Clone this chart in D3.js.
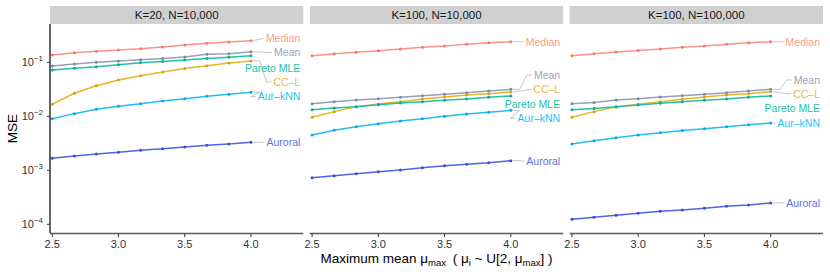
<!DOCTYPE html>
<html>
<head>
<meta charset="utf-8">
<script src="https://d3js.org/d3.v7.min.js"></script>
<style>
    body { margin: 0; background: white; }
    svg text { font-family: 'Liberation Sans', Arial, sans-serif; }
</style>
</head>
<body>
<svg id="chart" width="830" height="277"></svg>
<script>
    // x values: maximum mean mu_max
    var muMax = [2.5, 2.667, 2.833, 3.0, 3.167, 3.333, 3.5, 3.667, 3.833, 4.0];
    var panels = ['K=20, N=10,000', 'K=100, N=10,000', 'K=100, N=100,000'];
    var methods = ['Median', 'Mean', 'CC\u2013L', 'Pareto MLE', 'Aur\u2013kNN', 'Auroral'];

    // MSE per method, one row per panel
    var median = [
        [0.136, 0.151, 0.160, 0.169, 0.179, 0.192, 0.209, 0.225, 0.238, 0.251],
        [0.132, 0.144, 0.153, 0.164, 0.176, 0.190, 0.200, 0.216, 0.231, 0.240],
        [0.132, 0.144, 0.155, 0.166, 0.176, 0.190, 0.200, 0.216, 0.229, 0.240]
    ];
    var mean = [
        [0.0854, 0.093, 0.100, 0.106, 0.112, 0.117, 0.125, 0.141, 0.144, 0.157],
        [0.0171, 0.0186, 0.0200, 0.0212, 0.0225, 0.0241, 0.0255, 0.0274, 0.0294, 0.0316],
        [0.0171, 0.0180, 0.0200, 0.0212, 0.0227, 0.0241, 0.0255, 0.0274, 0.0294, 0.0316]
    ];
    var ccl = [
        [0.0167, 0.0267, 0.0369, 0.047, 0.0565, 0.066, 0.077, 0.0865, 0.097, 0.106],
        [0.00957, 0.0122, 0.0151, 0.0169, 0.0186, 0.0209, 0.0227, 0.0248, 0.0262, 0.0282],
        [0.00957, 0.0122, 0.0149, 0.0167, 0.0186, 0.0206, 0.0227, 0.0248, 0.0262, 0.0285]
    ];
    var pareto = [
        [0.072, 0.0774, 0.083, 0.090, 0.098, 0.104, 0.110, 0.117, 0.124, 0.132],
        [0.0132, 0.0142, 0.0151, 0.0164, 0.0176, 0.0186, 0.0198, 0.0209, 0.0225, 0.0238],
        [0.0132, 0.0140, 0.0151, 0.0162, 0.0174, 0.0186, 0.0198, 0.0209, 0.0225, 0.0238]
    ];
    var aurKnn = [
        [0.00903, 0.0112, 0.0135, 0.0153, 0.0171, 0.0192, 0.0212, 0.0234, 0.0255, 0.0278],
        [0.00451, 0.00551, 0.00642, 0.00729, 0.00818, 0.00903, 0.0100, 0.0110, 0.0119, 0.0129],
        [0.00307, 0.00353, 0.00402, 0.00451, 0.00497, 0.00546, 0.00589, 0.00642, 0.00698, 0.00751]
    ];
    var auroral = [
        [0.00167, 0.00184, 0.00200, 0.00216, 0.00235, 0.00251, 0.00270, 0.00290, 0.00307, 0.00330],
        [0.00073, 0.000794, 0.000865, 0.000942, 0.00101, 0.00112, 0.00122, 0.00129, 0.00138, 0.00151],
        [0.000124, 0.000135, 0.000147, 0.000160, 0.000174, 0.000184, 0.000198, 0.000216, 0.000228, 0.000248]
    ];
    // where the repelled labels sit (MSE units), one row per panel, in methods order
    var labelAt = [
        [0.278, 0.151, 0.0432, 0.0774, 0.0231, 0.0033],
        [0.240, 0.0582, 0.0316, 0.0167, 0.00918, 0.00149],
        [0.240, 0.047, 0.0259, 0.0141, 0.00741, 0.000249]
    ];
    var xTicks = [2.5, 3.0, 3.5, 4.0];
    var yTicks = [-1, -2, -3, -4];

    var series = [median, mean, ccl, pareto, aurKnn, auroral];
    var colors = ['#ff9288', '#94a1b9', '#e5b62a', '#22c1a2', '#22bdf2', '#4d66e2'];
    var pointColors = ['#f9786c', '#7d8aa3', '#d4a418', '#10ad8e', '#0aa8e2', '#3550d4'];
    var labelColors = ['#ff9a90', '#9aa6bd', '#e8bb3a', '#1fbf9f', '#2abff3', '#5b72e4'];

    var svg = d3.select('#chart');
    var padLeft = 50, padRight = 823, gap = 6.5;
    var stripTop = 6, plotTop = 24, plotBottom = 233;
    var pw = (padRight - padLeft - 2 * gap) / 3;
    var ph = plotBottom - plotTop;

    var x = d3.scaleLinear().domain([2.483, 4.395]).range([0, pw]);
    var y = d3.scaleLog().domain([6.9e-5, 0.512]).range([ph, 0]);

    panels.forEach(function (title, p) {
        var g = svg.append('g')
            .attr('transform', 'translate(' + (padLeft + p * (pw + gap)) + ',' + plotTop + ')');

        // strip
        g.append('rect')
            .attr('x', 0).attr('y', stripTop - plotTop)
            .attr('width', pw).attr('height', plotTop - stripTop)
            .attr('fill', '#d0d0d0');
        g.append('text')
            .attr('x', pw / 2).attr('y', (stripTop - plotTop) / 2 + 4)
            .attr('text-anchor', 'middle')
            .attr('font-size', 11.5)
            .attr('fill', '#1a1a1a')
            .text(title);

        // x axis
        g.append('line')
            .attr('x1', 0).attr('x2', pw)
            .attr('y1', ph + 0.5).attr('y2', ph + 0.5)
            .attr('stroke', '#5a5a5a').attr('stroke-width', 1.6);
        xTicks.forEach(function (t) {
            g.append('line')
                .attr('x1', x(t)).attr('x2', x(t))
                .attr('y1', ph + 1).attr('y2', ph + 4)
                .attr('stroke', '#333').attr('stroke-width', 1);
            g.append('text')
                .attr('x', x(t)).attr('y', ph + 15)
                .attr('text-anchor', 'middle')
                .attr('font-size', 11)
                .attr('fill', '#333')
                .text(d3.format('.1f')(t));
        });

        var line = d3.line()
            .x(function (d, i) { return x(muMax[i]); })
            .y(function (d) { return y(d); });

        series.forEach(function (s, k) {
            var vals = s[p];
            g.append('path')
                .datum(vals)
                .attr('d', line)
                .attr('fill', 'none')
                .attr('stroke', colors[k])
                .attr('stroke-width', 1.5);
            g.selectAll(null)
                .data(vals)
                .join('circle')
                .attr('cx', function (d, i) { return x(muMax[i]); })
                .attr('cy', function (d) { return y(d); })
                .attr('r', 1.5)
                .attr('fill', pointColors[k]);
        });

        // repelled labels with connectors
        series.forEach(function (s, k) {
            var ex = x(muMax[muMax.length - 1]), ey = y(s[p][s[p].length - 1]);
            var ly = y(labelAt[p][k]);
            var lab = g.append('text')
                .attr('x', pw - 3).attr('y', ly + 3.8)
                .attr('text-anchor', 'end')
                .attr('font-size', 10.5)
                .attr('fill', labelColors[k])
                .text(methods[k]);
            var lx = pw - 3 - lab.node().getComputedTextLength() - 2;
            if (lx - ex > 4) {
                var pts = Math.abs(ly - ey) < 3
                    ? [[ex + 2, ey], [lx, ly]]
                    : [[ex + 2, ey], [ex + 9, ey], [lx - 5, ly], [lx, ly]];
                g.insert('path', ':first-child')
                    .attr('d', d3.line()(pts))
                    .attr('fill', 'none')
                    .attr('stroke', '#b8b8b8')
                    .attr('stroke-width', 0.8);
            }
        });

        // y axis only on first panel
        if (p === 0) {
            g.append('line')
                .attr('x1', 0).attr('x2', 0)
                .attr('y1', 0).attr('y2', ph)
                .attr('stroke', '#000').attr('stroke-width', 1.2);
            yTicks.forEach(function (e) {
                var ty = y(Math.pow(10, e));
                g.append('line')
                    .attr('x1', -3).attr('x2', 0)
                    .attr('y1', ty).attr('y2', ty)
                    .attr('stroke', '#333');
                var t = g.append('text')
                    .attr('x', -7).attr('y', ty + 4)
                    .attr('text-anchor', 'end')
                    .attr('font-size', 11)
                    .attr('fill', '#333');
                t.append('tspan').text('10');
                t.append('tspan').attr('dy', -5).attr('font-size', 8).text('\u2212' + (-e));
            });
        }
    });

    // axis titles
    svg.append('text')
        .attr('transform', 'translate(17,' + ((plotTop + plotBottom) / 2) + ') rotate(-90)')
        .attr('text-anchor', 'middle')
        .attr('font-size', 13.5)
        .attr('fill', '#000')
        .text('MSE');

    var xt = svg.append('text')
        .attr('x', (padLeft + padRight) / 2).attr('y', 263)
        .attr('text-anchor', 'middle')
        .attr('font-size', 13.5)
        .attr('fill', '#000');
    xt.append('tspan').text('Maximum mean \u03bc');
    xt.append('tspan').attr('dy', 3).attr('font-size', 9.5).text('max');
    xt.append('tspan').attr('dy', -3).text('\u2002( \u03bc');
    xt.append('tspan').attr('dy', 3).attr('font-size', 9.5).text('i');
    xt.append('tspan').attr('dy', -3).text(' ~ U[2, \u03bc');
    xt.append('tspan').attr('dy', 3).attr('font-size', 9.5).text('max');
    xt.append('tspan').attr('dy', -3).text('] )');
</script>
</body>
</html>
